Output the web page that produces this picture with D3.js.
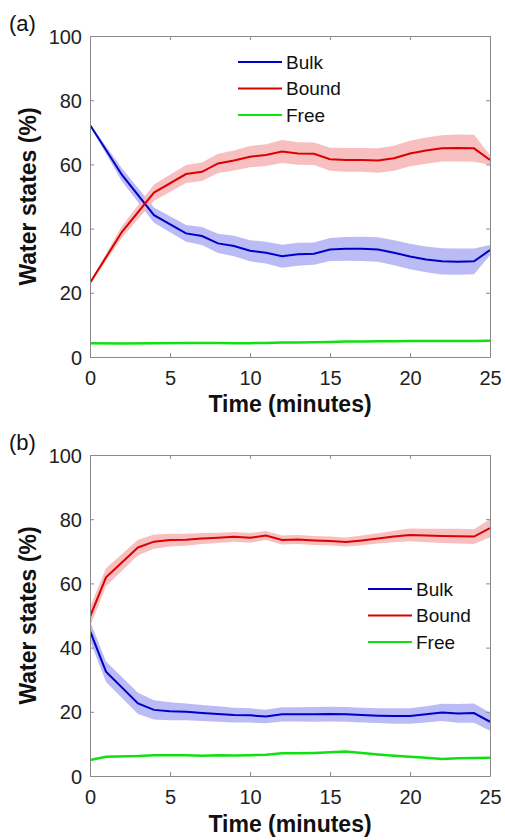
<!DOCTYPE html>
<html>
<head>
<meta charset="utf-8">
<script src="https://cdn.jsdelivr.net/npm/d3@7"></script>
<style>
  body { margin: 0; background: #fff; }
  text { font-family: "Liberation Sans", Arial, sans-serif; }
</style>
</head>
<body>
<div class="chart"></div>
<script>
// panel (a)
var timeA = [0, 2, 4, 6, 7, 8, 9, 10, 11, 12, 13, 14, 15, 16, 17, 18, 19, 20, 21, 22, 23, 24, 25];
var bulkA = [72.3, 56.7, 44.2, 38.5, 37.7, 35.4, 34.6, 33.1, 32.5, 31.4, 32.0, 32.2, 33.5, 33.7, 33.7, 33.5, 32.5, 31.3, 30.4, 29.8, 29.7, 29.8, 33.3];
var bulkSdA = [0.3, 2.0, 2.4, 2.6, 2.8, 3.0, 3.2, 3.3, 3.4, 3.6, 3.6, 3.5, 3.6, 3.7, 3.8, 3.8, 3.9, 4.0, 4.0, 4.1, 4.1, 4.0, 1.6];
var boundA = [23.1, 39.0, 51.2, 57.0, 57.7, 60.3, 61.2, 62.4, 62.9, 64.0, 63.4, 63.3, 61.6, 61.4, 61.4, 61.2, 61.9, 63.4, 64.3, 65.0, 65.1, 65.0, 61.4];
var boundSdA = [0.3, 1.8, 2.5, 2.8, 2.9, 3.0, 3.1, 3.3, 3.4, 3.6, 3.5, 3.5, 3.6, 3.7, 3.7, 3.8, 3.9, 4.0, 4.1, 4.1, 4.2, 4.2, 1.5];
var freeA = [4.3, 4.2, 4.3, 4.4, 4.4, 4.4, 4.3, 4.3, 4.4, 4.5, 4.5, 4.6, 4.7, 4.8, 4.8, 4.9, 4.9, 5.0, 5.0, 5.0, 5.0, 5.0, 5.1];

// panel (b)
var timeB = [0, 1, 3, 4, 5, 6, 7, 8, 9, 10, 11, 12, 13, 14, 15, 16, 17, 18, 19, 20, 21, 22, 23, 24, 25];
var bulkB = [45.2, 32.5, 22.6, 20.6, 20.2, 20.0, 19.6, 19.3, 19.0, 18.9, 18.5, 19.2, 19.2, 19.2, 19.3, 19.2, 19.0, 18.8, 18.7, 18.7, 19.2, 19.8, 19.5, 19.6, 16.9];
var bulkSdB = [3.0, 3.2, 3.3, 3.0, 2.8, 2.6, 2.5, 2.4, 2.3, 2.2, 2.1, 2.2, 2.2, 2.3, 2.3, 2.3, 2.3, 2.3, 2.4, 2.4, 2.5, 2.7, 2.9, 3.0, 2.8];
var boundB = [49.6, 61.9, 71.2, 73.0, 73.5, 73.6, 74.0, 74.2, 74.5, 74.2, 74.9, 73.5, 73.7, 73.4, 73.2, 72.9, 73.4, 74.0, 74.6, 75.1, 74.9, 74.8, 74.7, 74.6, 77.2];
var boundSdB = [3.0, 2.8, 2.4, 2.2, 2.0, 1.9, 1.7, 1.6, 1.5, 1.5, 1.4, 1.4, 1.4, 1.4, 1.4, 1.4, 1.5, 1.6, 1.8, 2.0, 2.1, 2.2, 2.3, 2.3, 2.8];
var freeB = [5.0, 6.0, 6.2, 6.5, 6.5, 6.5, 6.3, 6.5, 6.4, 6.5, 6.6, 7.1, 7.1, 7.2, 7.4, 7.6, 7.2, 6.7, 6.3, 6.0, 5.7, 5.3, 5.5, 5.6, 5.7];

var seriesNames = ["Bulk", "Bound", "Free"];
var xTicks = [0, 5, 10, 15, 20, 25];
var yTicks = [0, 20, 40, 60, 80, 100];
var panelLabels = ["(a)", "(b)"];
var xTitle = "Time (minutes)";
var yTitle = "Water states (%)";

var lineColors = ["#0000c8", "#dc0000", "#10e010"];
var bandColors = ["#b4b4f4", "#f6b8b8"];

var svg = d3.select(".chart").append("svg")
  .attr("width", 505)
  .attr("height", 840)
  .style("display", "block");

var panels = [
  { top: 36, label: panelLabels[0], time: timeA, mean: [bulkA, boundA, freeA], sd: [bulkSdA, boundSdA], legend: { x: 238, y: 62 }, titleGap: 55 },
  { top: 455, label: panelLabels[1], time: timeB, mean: [bulkB, boundB, freeB], sd: [bulkSdB, boundSdB], legend: { x: 368, y: 589 }, titleGap: 56 }
];

var left = 90, right = 490, plotH = 321;

panels.forEach(function(p, pi) {
  var x = d3.scaleLinear().domain([0, 25]).range([left, right]);
  var y = d3.scaleLinear().domain([0, 100]).range([p.top + plotH, p.top]);
  var g = svg.append("g");

  g.append("clipPath").attr("id", "clip" + pi)
    .append("rect").attr("x", left).attr("y", p.top).attr("width", right - left).attr("height", plotH);

  var plot = g.append("g").attr("clip-path", "url(#clip" + pi + ")");

  // shaded bands (mean +/- sd)
  p.sd.forEach(function(sd, si) {
    var area = d3.area()
      .x(function(d, i) { return x(p.time[i]); })
      .y0(function(d, i) { return y(d - sd[i]); })
      .y1(function(d, i) { return y(d + sd[i]); });
    plot.append("path").datum(p.mean[si])
      .attr("d", area)
      .attr("fill", bandColors[si])
      .attr("opacity", 0.9);
  });

  // mean lines
  p.mean.forEach(function(vals, si) {
    var line = d3.line()
      .x(function(d, i) { return x(p.time[i]); })
      .y(function(d) { return y(d); });
    plot.append("path").datum(vals)
      .attr("d", line)
      .attr("fill", "none")
      .attr("stroke", lineColors[si])
      .attr("stroke-width", si == 2 ? 2.5 : 2);
  });

  // axes, ticks pointing inwards on all four sides
  var bottom = g.append("g").attr("transform", "translate(0," + (p.top + plotH) + ")")
    .call(d3.axisBottom(x).tickValues(xTicks).tickSizeInner(-4).tickSizeOuter(0).tickPadding(10));
  var leftAx = g.append("g").attr("transform", "translate(" + left + ",0)")
    .call(d3.axisLeft(y).tickValues(yTicks).tickSizeInner(-4).tickSizeOuter(0).tickPadding(8));
  var topAx = g.append("g").attr("transform", "translate(0," + p.top + ")")
    .call(d3.axisTop(x).tickValues(xTicks).tickSizeInner(-4).tickSizeOuter(0).tickFormat(""));
  var rightAx = g.append("g").attr("transform", "translate(" + right + ",0)")
    .call(d3.axisRight(y).tickValues(yTicks).tickSizeInner(-4).tickSizeOuter(0).tickFormat(""));

  [bottom, leftAx, topAx, rightAx].forEach(function(a) {
    a.select(".domain").attr("stroke", "#8a8a8a").attr("stroke-width", 1);
    a.selectAll(".tick line").attr("stroke", "#8a8a8a");
    a.selectAll(".tick text")
      .attr("fill", "#222")
      .style("font-size", "20px")
      .style("font-family", "'Liberation Sans', Arial, sans-serif");
  });
  bottom.selectAll(".tick text").attr("dy", "0.9em");
  leftAx.selectAll(".tick text").attr("dy", "0.35em");

  // titles
  g.append("text")
    .attr("x", (left + right) / 2)
    .attr("y", p.top + plotH + p.titleGap)
    .attr("text-anchor", "middle")
    .attr("font-weight", "bold")
    .attr("font-size", "23px")
    .attr("fill", "#111")
    .text(xTitle);

  g.append("text")
    .attr("transform", "translate(36," + (p.top + plotH / 2) + ") rotate(-90)")
    .attr("text-anchor", "middle")
    .attr("font-weight", "bold")
    .attr("font-size", "23px")
    .attr("fill", "#111")
    .text(yTitle);

  g.append("text")
    .attr("x", 9)
    .attr("y", p.top - 5)
    .attr("font-size", "22px")
    .attr("fill", "#111")
    .text(p.label);

  // legend
  var leg = g.append("g").selectAll("g").data(seriesNames).enter().append("g")
    .attr("transform", function(d, i) { return "translate(" + p.legend.x + "," + (p.legend.y + i * 26.5) + ")"; });
  leg.append("line")
    .attr("x1", 0).attr("x2", 44).attr("y1", 0).attr("y2", 0)
    .attr("stroke", function(d, i) { return lineColors[i]; })
    .attr("stroke-width", 2);
  leg.append("text")
    .attr("x", 48)
    .attr("dy", "0.35em")
    .attr("font-size", "19px")
    .attr("fill", "#111")
    .text(function(d) { return d; });
});
</script>
</body>
</html>
